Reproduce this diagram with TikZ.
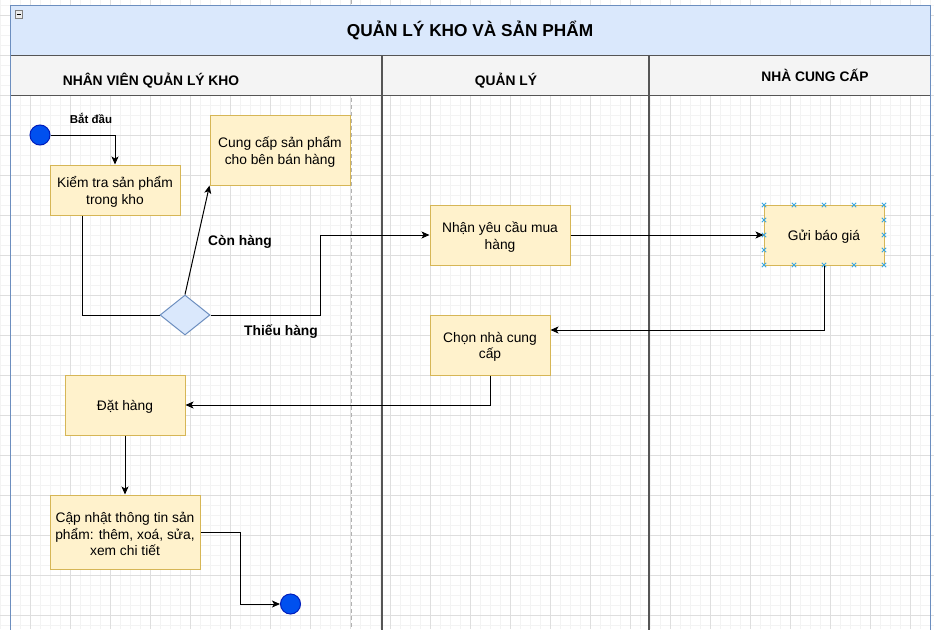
\documentclass[tikz,border=0pt]{standalone}
\usepackage{fontspec}
\setmainfont{Liberation Sans}
\usetikzlibrary{shapes.geometric,arrows.meta}
\definecolor{gridminor}{HTML}{F3F3F3}
\definecolor{gridmajor}{HTML}{DEDEDE}
\definecolor{boxfill}{HTML}{FFF2CC}
\definecolor{boxline}{HTML}{D6B656}
\definecolor{bluefill}{HTML}{DAE8FC}
\definecolor{blueline}{HTML}{6C8EBF}
\definecolor{headfill}{HTML}{F4F4F4}
\definecolor{laneline}{HTML}{555555}
\definecolor{dotfill}{HTML}{0050EF}
\definecolor{dotline}{HTML}{001DBC}
\definecolor{marker}{HTML}{3AA7E0}
\tikzset{
  actbox/.style={draw=boxline, fill=boxfill, line width=1pt, inner sep=0pt},
  boxtext/.style={align=center, inner sep=0pt, font=\fontsize{13.8}{16.5}\selectfont},
  dot/.style={circle, draw=dotline, fill=dotfill, line width=1pt, minimum size=20pt, inner sep=0pt},
  flow/.style={draw=black, line width=1pt, -{Stealth[length=8pt,width=7pt,inset=2pt]}},
  plainflow/.style={draw=black, line width=1pt},
  edgelabel/.style={font=\bfseries\fontsize{13.8}{16}\selectfont, inner sep=0pt},
  lanehead/.style={font=\bfseries\fontsize{13.8}{16}\selectfont, inner sep=0pt},
  xmark/.style={draw=marker, line width=0.9pt}
}
\begin{document}
\begin{tikzpicture}[x=1pt,y=-1pt]
\useasboundingbox (0,0) rectangle (934,629);
\fill[white] (0,0) rectangle (934,629);
% grid
\foreach \x in {0,10,...,930} \draw[gridminor, line width=0.8pt] (\x,0) -- (\x,629);
\foreach \y in {5,15,...,625} \draw[gridminor, line width=0.8pt] (0,\y) -- (934,\y);
\foreach \x in {30,70,...,910} \draw[gridmajor, line width=0.8pt] (\x,0) -- (\x,629);
\foreach \y in {15,55,...,615} \draw[gridmajor, line width=0.8pt] (0,\y) -- (934,\y);
% page break line
\draw[gray!60, line width=0.8pt, dash pattern=on 4pt off 3pt] (351,0) -- (351,629);
% title band
\node[draw=blueline, fill=bluefill, line width=1pt, minimum width=920pt, minimum height=50pt, inner sep=0pt] (titleband) at (470,30) {};
\node[font=\bfseries\fontsize{17.25}{20}\selectfont, inner sep=0pt] (title) at (470,30) {QUẢN LÝ KHO VÀ SẢN PHẨM};
% minus icon
\node[draw=gray, fill=gray!15, line width=0.8pt, minimum size=7.5pt, inner sep=0pt] (collapse) at (19,14.5) {};
\draw[black, line width=0.9pt] ([xshift=-2.2pt]collapse.center) -- ([xshift=2.2pt]collapse.center);
% header band
\node[draw=laneline, fill=headfill, line width=1pt, minimum width=920pt, minimum height=40pt, inner sep=0pt] (headband) at (470,75) {};
% pool borders
\draw[blueline, line width=1pt] (10,5) -- (10,640);
\draw[blueline, line width=1pt] (930,5) -- (930,640);
% lane dividers
\draw[laneline, line width=1.1pt] (382,55) -- (382,640);
\draw[laneline, line width=1.1pt] (649,55) -- (649,640);
% lane titles
\node[lanehead] (lane1) at (151,80.5) {NHÂN VIÊN QUẢN LÝ KHO};
\node[lanehead] (lane2) at (506,80.5) {QUẢN LÝ};
\node[lanehead] (lane3) at (815,75.5) {NHÀ CUNG CẤP};
% nodes
\node[dot] (start) at (40,135) {};
\node[font=\bfseries\fontsize{11.5}{13}\selectfont, inner sep=0pt] (startlbl) at (91,118) {Bắt đầu};
\node[actbox, minimum width=130pt, minimum height=50pt] (kiem) at (115,190) {};
\node[boxtext] (kiemtxt) at ([yshift=-2pt]kiem.center) {Kiểm tra sản phẩm\\trong kho};
\node[actbox, minimum width=140pt, minimum height=70pt] (cung) at (280,150) {};
\node[boxtext] (cungtxt) at ([yshift=-2pt]cung.center) {Cung cấp sản phẩm\\cho bên bán hàng};
\node[diamond, draw=blueline, fill=bluefill, line width=1pt, minimum width=50pt, minimum height=40pt, inner sep=0pt] (dia) at (185,315) {};
\node[actbox, minimum width=140pt, minimum height=60pt] (nhan) at (500,235) {};
\node[boxtext] (nhantxt) at ([yshift=-2pt]nhan.center) {Nhận yêu cầu mua\\hàng};
\node[actbox, minimum width=120pt, minimum height=60pt] (gui) at (824,235) {};
\node[boxtext] (guitxt) at ([yshift=-2pt]gui.center) {Gửi báo giá};
\node[actbox, minimum width=120pt, minimum height=60pt] (chon) at (490,345) {};
\node[boxtext] (chontxt) at ([yshift=-2pt]chon.center) {Chọn nhà cung\\cấp};
\node[actbox, minimum width=120pt, minimum height=60pt] (dat) at (125,405) {};
\node[boxtext] (dattxt) at ([yshift=-2pt]dat.center) {Đặt hàng};
\node[actbox, minimum width=150pt, minimum height=74pt] (cap) at (125,532) {};
\node[boxtext] (captxt) at ([yshift=-2pt]cap.center) {Cập nhật thông tin sản\\phẩm: thêm, xoá, sửa,\\xem chi tiết};
\node[dot] (end) at (290.5,604) {};
% markers on Gui bao gia
\foreach \mx in {764,794,824,854,884} {
  \foreach \my in {205,265} {
    \draw[xmark] (\mx-2.2,\my-2.2) -- (\mx+2.2,\my+2.2) (\mx-2.2,\my+2.2) -- (\mx+2.2,\my-2.2);
  }
}
\foreach \mx in {764,884} {
  \foreach \my in {220,235,250} {
    \draw[xmark] (\mx-2.2,\my-2.2) -- (\mx+2.2,\my+2.2) (\mx-2.2,\my+2.2) -- (\mx+2.2,\my-2.2);
  }
}
% edges
\draw[flow] (start.east) -| (kiem.north);
\draw[plainflow] ([xshift=-33pt]kiem.south) |- (dia.west);
\draw[flow] (dia.north) -- (cung.south west);
\draw[flow] (dia.east) -- ++(110,0) |- (nhan.west);
\draw[flow] (nhan.east) -- (gui.west);
\draw[flow] (gui.south) |- ([yshift=15pt]chon.east);
\draw[flow] (chon.south) |- (dat.east);
\draw[flow] (dat.south) -- (cap.north);
\draw[flow] (cap.east) -- ++(40,0) |- (end.west);
% edge labels
\node[edgelabel] (conhang) at (240,242) {Còn hàng};
\node[edgelabel] (thieuhang) at (281,332) {Thiếu hàng};
\end{tikzpicture}
\end{document}
